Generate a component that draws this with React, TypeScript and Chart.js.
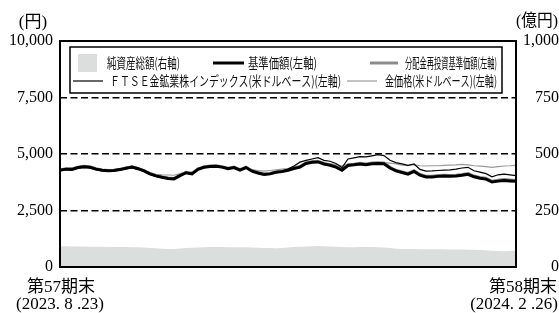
import React, { useEffect, useRef } from "react";
import { Chart, registerables } from "chart.js";

Chart.register(...registerables);

// ---- data ----
const NAV = [4280,4330,4320,4400,4440,4415,4330,4280,4260,4270,
  4310,4370,4420,4350,4250,4120,4030,3970,3920,3900,
  4040,4170,4120,4320,4410,4450,4460,4420,4350,4400,
  4290,4400,4240,4160,4090,4120,4190,4220,4280,4360,
  4420,4580,4630,4650,4560,4500,4420,4280,4490,4520,
  4560,4530,4570,4580,4570,4380,4250,4180,4110,4230,
  4060,3980,3980,4010,4030,4015,4030,4060,4100,3990,
  3930,3890,3760,3800,3830,3810,3790];
const REINVESTED = [4295,4345,4335,4415,4455,4430,4345,4295,4275,4285,
  4325,4385,4435,4365,4265,4135,4045,3985,3935,3915,
  4060,4190,4140,4340,4430,4470,4480,4440,4370,4420,
  4310,4420,4260,4180,4110,4140,4210,4245,4305,4385,
  4445,4605,4655,4675,4585,4525,4445,4305,4520,4550,
  4590,4560,4600,4610,4600,4410,4280,4210,4140,4260,
  4095,4015,4015,4045,4065,4050,4065,4095,4135,4025,
  3965,3925,3795,3840,3870,3850,3830];
const FTSE = [4260,4320,4330,4380,4430,4400,4310,4270,4250,4260,
  4300,4360,4400,4330,4230,4100,4010,3950,3910,3900,
  4060,4180,4140,4330,4420,4450,4460,4430,4370,4410,
  4300,4420,4260,4180,4100,4140,4200,4240,4330,4470,
  4640,4720,4780,4840,4720,4680,4580,4400,4780,4830,
  4880,4870,4920,4970,4930,4720,4620,4560,4500,4560,
  4320,4240,4250,4270,4290,4300,4330,4380,4410,4260,
  4200,4130,3990,4080,4110,4080,4040];
const GOLD = [4260,4300,4300,4360,4400,4390,4320,4280,4260,4260,
  4290,4340,4380,4330,4260,4180,4100,4080,4070,4060,
  4130,4200,4210,4320,4390,4430,4440,4420,4380,4390,
  4340,4380,4310,4270,4240,4270,4300,4330,4350,4420,
  4460,4580,4620,4640,4580,4560,4540,4470,4550,4540,
  4570,4560,4580,4610,4620,4600,4560,4510,4480,4530,
  4480,4470,4480,4480,4500,4510,4520,4540,4520,4480,
  4460,4440,4410,4440,4470,4480,4500];
const NET_ASSETS = [92,92,91,91,91,90,90,90,89,89,
  88,88,87,87,86,84,83,81,80,80,
  82,84,85,86,87,88,88,88,87,87,
  87,87,86,85,84,84,83,84,86,88,
  90,91,92,93,92,91,90,88,87,87,
  88,88,88,87,86,84,81,80,80,80,
  79,79,78,78,78,77,77,77,76,76,
  75,74,72,71,70,72,72];
const CATEGORIES = NAV.map((_, i) => String(i));

const LEFT_TICKS = [0, 2500, 5000, 7500, 10000];
const RIGHT_TICKS = [0, 250, 500, 750, 1000];
const DASHED_VALUES = [2500, 5000, 7500];

const LEGEND_LABELS = [
  "純資産総額(右軸)",
  "基準価額(左軸)",
  "分配金再投資基準価額(左軸)",
  "ＦＴＳＥ金鉱業株インデックス(米ドルベース)(左軸)",
  "金価格(米ドルベース)(左軸)",
];
const LEFT_UNIT = "(円)";
const RIGHT_UNIT = "(億円)";
const START_LABEL = ["第57期末", "(2023. 8 .23)"];
const END_LABEL = ["第58期末", "(2024. 2 .26)"];

const SERIF = '"Liberation Serif", "Noto Sans CJK JP", serif';
const CJK = '"Noto Sans CJK JP", sans-serif';

const overlay = {
  id: "overlay",
  afterDatasetsDraw(chart: any) {
    const { ctx, chartArea: a } = chart;
    ctx.save();
    ctx.strokeStyle = "#000";
    ctx.lineWidth = 2;
    ctx.strokeRect(a.left, a.top, a.right - a.left, a.bottom - a.top);
    ctx.restore();
  },
  afterDraw(chart: any) {
    const { ctx, chartArea: a } = chart;
    ctx.save();
    // legend box
    const bx = a.left + 10, by = a.top + 6, bw = a.right - a.left - 24, bh = 46;
    ctx.fillStyle = "#fff";
    ctx.fillRect(bx, by, bw, bh);
    ctx.strokeStyle = "#000";
    ctx.lineWidth = 1.5;
    ctx.strokeRect(bx, by, bw, bh);

    const r1 = a.top + 22, r2 = a.top + 40;
    ctx.font = "13.5px " + CJK;
    ctx.textBaseline = "middle";
    ctx.textAlign = "left";
    ctx.fillStyle = "#111";
    const L = a.left;
    // item 0: area swatch
    ctx.fillStyle = "#dcdddd";
    ctx.fillRect(L + 18, r1 - 9, 19, 18);
    ctx.fillStyle = "#111";
    ctx.fillText(LEGEND_LABELS[0], L + 47, r1, 73);
    const line = (x1: number, x2: number, y: number, color: string, w: number) => {
      ctx.beginPath();
      ctx.strokeStyle = color;
      ctx.lineWidth = w;
      ctx.moveTo(x1, y);
      ctx.lineTo(x2, y);
      ctx.stroke();
    };
    line(L + 153, L + 184, r1, "#000", 3);
    ctx.fillText(LEGEND_LABELS[1], L + 188, r1, 69);
    line(L + 310, L + 338, r1, "#8c8c8c", 3);
    ctx.fillText(LEGEND_LABELS[2], L + 345, r1, 92);
    line(L + 13, L + 43, r2, "#000", 1.2);
    ctx.fillText(LEGEND_LABELS[3], L + 50, r2, 231);
    line(L + 287, L + 317, r2, "#9a9a9a", 1.2);
    ctx.fillText(LEGEND_LABELS[4], L + 325, r2, 112);

    // unit labels
    ctx.fillStyle = "#000";
    ctx.font = "17px " + SERIF;
    ctx.textAlign = "center";
    ctx.fillText(LEFT_UNIT, 33, 23, 36);
    ctx.fillText(RIGHT_UNIT, 537, 22, 42);

    // period labels
    ctx.fillText(START_LABEL[0], a.left + 1, 288);
    ctx.fillText(START_LABEL[1], a.left, 305);
    ctx.textAlign = "right";
    ctx.fillText(END_LABEL[0], 557, 288);
    ctx.fillText(END_LABEL[1], 558, 305);
    ctx.restore();
  },
};

export default function App() {
  const ref = useRef<HTMLCanvasElement | null>(null);
  useEffect(() => {
    if (!ref.current) return;
    const fmt = (v: any) => Number(v).toLocaleString("en-US");
    const chart = new Chart(ref.current, {
      type: "line",
      data: {
        labels: CATEGORIES,
        datasets: [
          {
            label: LEGEND_LABELS[0], data: NET_ASSETS, yAxisID: "y1",
            fill: "origin", backgroundColor: "#dcdddd", borderWidth: 0,
            borderColor: "rgba(0,0,0,0)", pointRadius: 0, order: 10,
          },
          {
            label: LEGEND_LABELS[2], data: REINVESTED, yAxisID: "y",
            borderColor: "#8c8c8c", borderWidth: 3, pointRadius: 0, order: 4,
          },
          {
            label: LEGEND_LABELS[4], data: GOLD, yAxisID: "y",
            borderColor: "#9a9a9a", borderWidth: 1.2, pointRadius: 0, order: 3,
          },
          {
            label: LEGEND_LABELS[3], data: FTSE, yAxisID: "y",
            borderColor: "#000", borderWidth: 1.2, pointRadius: 0, order: 2,
          },
          {
            label: LEGEND_LABELS[1], data: NAV, yAxisID: "y",
            borderColor: "#000", borderWidth: 3, pointRadius: 0, order: 1,
          },
        ],
      },
      options: {
        animation: false,
        responsive: true,
        maintainAspectRatio: false,
        layout: { padding: { top: 41, bottom: 46, left: 0, right: 0 } },
        plugins: { legend: { display: false }, tooltip: { enabled: false } },
        elements: { line: { tension: 0 } },
        scales: {
          x: { display: false },
          y: {
            position: "left", min: 0, max: 10000,
            afterFit: (s: any) => { s.width = 60; },
            afterBuildTicks: (s: any) => { s.ticks = LEFT_TICKS.map((v) => ({ value: v })); },
            ticks: {
              padding: 7, color: "#000",
              font: { family: SERIF, size: 16 },
              callback: fmt,
            },
            grid: {
              drawTicks: false,
              lineWidth: 1.5,
              color: (c: any) => (c.tick && DASHED_VALUES.includes(c.tick.value) ? "#000" : "rgba(0,0,0,0)"),
            },
            border: { display: false, dash: [7, 3.5] },
          },
          y1: {
            position: "right", min: 0, max: 1000,
            afterFit: (s: any) => { s.width = 43; },
            afterBuildTicks: (s: any) => { s.ticks = RIGHT_TICKS.map((v) => ({ value: v })); },
            ticks: {
              padding: 4, color: "#000", crossAlign: "far",
              font: { family: SERIF, size: 16 },
              callback: fmt,
            },
            grid: { display: false, drawTicks: false },
            border: { display: false },
          },
        },
      },
      plugins: [overlay],
    } as any);
    return () => chart.destroy();
  }, []);
  return (
    <div style={{ position: "absolute", left: 0, top: 0, width: 559, height: 313, background: "#fff" }}>
      <canvas ref={ref} />
    </div>
  );
}
